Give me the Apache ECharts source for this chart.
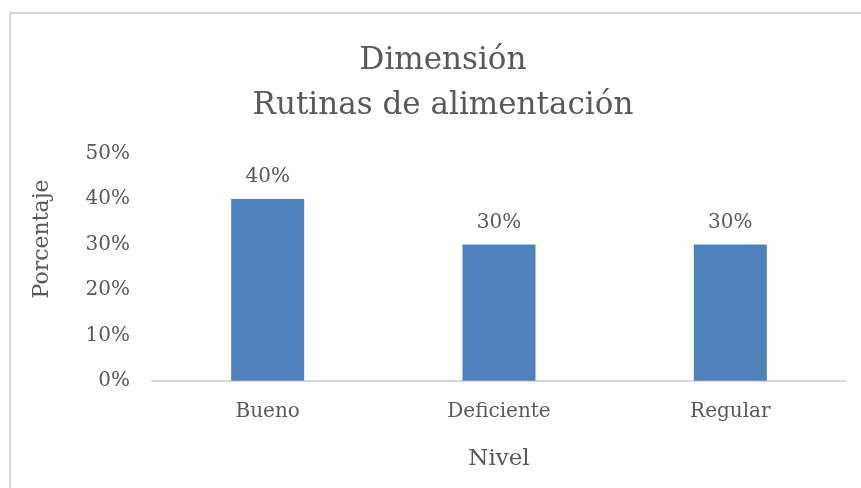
<!DOCTYPE html>
<html>
<head>
<meta charset="utf-8">
<script src="https://cdn.jsdelivr.net/npm/echarts@6/dist/echarts.min.js"></script>
<style>
html,body{margin:0;padding:0;background:#fff;}
#c{width:861px;height:488px;}
</style>
</head>
<body>
<div id="c"></div>
<script>
const categories = ['Bueno', 'Deficiente', 'Regular'];
const values = [0.40, 0.30, 0.30];
const titleLines = ['Dimensión', 'Rutinas de alimentación'];
const xName = 'Nivel';
const yName = 'Porcentaje';

const FONT = '"DejaVu Serif", serif';
const TXT = '#595959';
const chart = echarts.init(document.getElementById('c'), null, {renderer: 'canvas'});
chart.setOption({
  animation: false,
  backgroundColor: '#fff',
  title: {
    text: titleLines.join('\n'),
    left: 438, top: 33, textAlign: 'center',
    textStyle: {fontFamily: FONT, fontSize: 31, fontWeight: 'normal', color: TXT, lineHeight: 45}
  },
  graphic: [
    {type: 'rect', shape: {x: 10, y: 13, width: 900, height: 600}, style: {fill: 'none', stroke: '#D9D9D9', lineWidth: 2}, silent: true, z: -1},
    {type: 'text', x: 42, y: 239, rotation: Math.PI / 2,
     style: {text: yName, fontFamily: FONT, fontSize: 22, fill: TXT, align: 'center', verticalAlign: 'middle'}}
  ],
  grid: {left: 152, right: 15, top: 153.7, bottom: 107.3, containLabel: false},
  xAxis: {
    type: 'category', data: categories,
    name: xName, nameLocation: 'middle', nameGap: 67,
    nameTextStyle: {fontFamily: FONT, fontSize: 23, color: TXT},
    axisLine: {lineStyle: {color: '#D9D9D9', width: 2}},
    axisTick: {show: false},
    axisLabel: {fontFamily: FONT, fontSize: 20, color: TXT, margin: 21}
  },
  yAxis: {
    type: 'value', min: 0, max: 0.5, interval: 0.1,
    axisLine: {show: false}, axisTick: {show: false},
    splitLine: {show: false},
    axisLabel: {fontFamily: FONT, fontSize: 20, color: TXT, margin: 22,
      formatter: v => Math.round(v * 100) + '%'}
  },
  series: [{
    type: 'bar', data: values, barWidth: 73,
    itemStyle: {color: '#4F81BD'},
    label: {show: true, position: 'top', distance: 12, fontFamily: FONT, fontSize: 20, color: TXT,
      formatter: p => Math.round(p.value * 100) + '%'}
  }]
});
</script>
</body>
</html>
